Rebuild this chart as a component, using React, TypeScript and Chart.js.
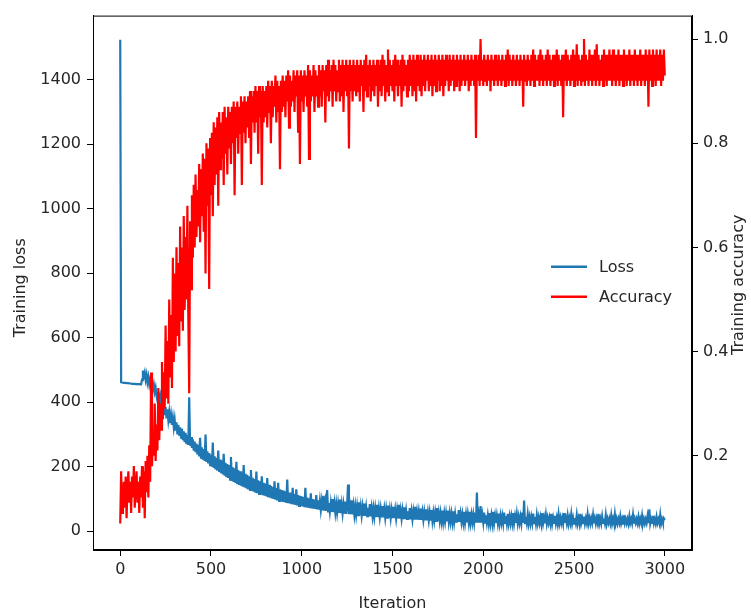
import { useEffect, useRef } from 'react';
import { Chart, registerables } from 'chart.js';

Chart.register(...registerables);

const ITERATION_STEP = 5;

// one row = 100 iterations (20 samples)
const lossValues = [
  1523, 462, 461, 461, 460, 460, 460, 459, 459, 459, 458, 458, 458, 457, 457, 457, 457, 456, 456, 456,
  456, 456, 455, 455, 470, 498, 480, 492, 470, 485, 462, 478, 455, 470, 448, 462, 440, 455, 432, 445,
  420, 405, 432, 398, 415, 380, 402, 372, 395, 360, 385, 350, 378, 345, 368, 335, 360, 330, 352, 322,
  345, 312, 338, 300, 330, 296, 322, 290, 318, 282, 310, 276, 305, 270, 298, 268, 415, 265, 292, 258,
  285, 250, 278, 245, 272, 238, 268, 232, 290, 228, 260, 222, 255, 218, 300, 215, 248, 210, 242, 205,
  238, 200, 275, 196, 232, 192, 228, 188, 250, 184, 222, 180, 218, 176, 240, 172, 212, 168, 208, 165,
  205, 160, 230, 156, 198, 153, 195, 150, 215, 146, 190, 144, 186, 141, 182, 138, 205, 136, 178, 133,
  175, 130, 170, 128, 190, 126, 166, 123, 162, 120, 185, 118, 158, 116, 155, 114, 170, 112, 150, 110,
  148, 108, 165, 106, 144, 104, 140, 102, 138, 100, 155, 98, 134, 96, 150, 94, 130, 93, 128, 91,
  126, 90, 124, 88, 160, 87, 120, 86, 118, 84, 135, 83, 115, 82, 130, 80, 112, 79, 110, 78,
  108, 77, 106, 75, 135, 74, 104, 73, 102, 72, 118, 71, 100, 70, 98, 69, 112, 68, 96, 67,
  94, 66, 92, 65, 110, 64, 90, 63, 128, 62, 88, 61, 87, 60, 100, 59, 86, 58, 85, 58,
  84, 57, 98, 56, 83, 55, 82, 55, 92, 54, 81, 145, 53, 80, 53, 96, 52, 79, 51, 78,
  51, 77, 50, 90, 50, 76, 49, 75, 48, 86, 48, 74, 47, 73, 47, 84, 46, 72, 46, 71,
  45, 71, 45, 82, 44, 70, 44, 69, 43, 78, 43, 68, 42, 68, 42, 80, 42, 67, 41, 66,
  41, 76, 41, 66, 40, 65, 40, 82, 39, 64, 39, 64, 38, 74, 38, 63, 38, 62, 37, 72,
  37, 62, 37, 61, 36, 76, 36, 60, 36, 60, 35, 70, 35, 59, 35, 59, 34, 68, 34, 58,
  34, 58, 33, 66, 33, 57, 33, 57, 32, 72, 32, 56, 32, 56, 32, 64, 31, 55, 31, 55,
  31, 64, 31, 55, 30, 54, 30, 62, 30, 54, 30, 53, 29, 66, 29, 53, 29, 52, 29, 60,
  28, 52, 28, 52, 28, 60, 28, 51, 28, 51, 27, 58, 27, 120, 27, 50, 27, 78, 27, 50,
  27, 58, 27, 50, 27, 49, 26, 56, 26, 49, 26, 60, 26, 48, 26, 48, 26, 55, 26, 48,
  26, 47, 25, 58, 26, 47, 25, 54, 26, 46, 25, 46, 26, 56, 25, 46, 26, 52, 25, 45,
  26, 45, 25, 58, 26, 95, 25, 45, 26, 52, 25, 44, 24, 44, 26, 55, 25, 44, 24, 50,
  26, 43, 25, 43, 24, 56, 26, 43, 25, 50, 24, 42, 26, 42, 25, 54, 24, 42, 26, 48,
  25, 42, 24, 52, 26, 42, 25, 41, 24, 56, 26, 41, 25, 48, 24, 41, 26, 52, 25, 41,
  24, 41, 26, 50, 25, 40, 24, 54, 26, 40, 25, 46, 24, 40, 26, 52, 25, 40, 24, 40,
  26, 50, 25, 40, 24, 40, 26, 54, 25, 39, 24, 46, 26, 39, 25, 50, 24, 39, 26, 39,
  25, 48, 24, 39, 26, 52, 25, 39, 24, 38, 26, 46, 25, 38, 24, 50, 26, 38, 25, 38,
  24, 46, 26, 38, 25, 50, 24, 38, 26, 38, 25, 44, 24, 38, 26, 48, 25, 38, 24, 37,
  26, 46, 25, 68, 24, 37, 26, 48, 25, 37, 24, 44, 26, 37, 25, 50, 24, 37, 26, 40,
  35,
];

const accuracyValues = [
  0.07, 0.17, 0.09, 0.12, 0.15, 0.10, 0.16, 0.08, 0.14, 0.17, 0.11, 0.15, 0.09, 0.16, 0.12, 0.18, 0.10, 0.14, 0.17, 0.11,
  0.15, 0.09, 0.16, 0.12, 0.18, 0.10, 0.17, 0.08, 0.19, 0.13, 0.20, 0.12, 0.22, 0.15, 0.36, 0.18, 0.24, 0.20, 0.30, 0.19,
  0.26, 0.21, 0.33, 0.23, 0.30, 0.25, 0.38, 0.27, 0.36, 0.29, 0.45, 0.31, 0.42, 0.30, 0.50, 0.35, 0.47, 0.33, 0.58, 0.38,
  0.55, 0.40, 0.60, 0.43, 0.57, 0.41, 0.64, 0.46, 0.60, 0.44, 0.66, 0.48, 0.62, 0.50, 0.68, 0.47, 0.32, 0.65, 0.52, 0.70,
  0.58, 0.72, 0.60, 0.74, 0.62, 0.71, 0.64, 0.76, 0.61, 0.75, 0.66, 0.78, 0.63, 0.77, 0.55, 0.80, 0.68, 0.79, 0.52, 0.81,
  0.70, 0.82, 0.66, 0.84, 0.72, 0.83, 0.74, 0.85, 0.68, 0.86, 0.75, 0.84, 0.77, 0.86, 0.72, 0.87, 0.78, 0.85, 0.74, 0.87,
  0.79, 0.86, 0.76, 0.87, 0.80, 0.88, 0.70, 0.87, 0.81, 0.88, 0.78, 0.87, 0.82, 0.89, 0.72, 0.88, 0.82, 0.89, 0.80, 0.88,
  0.83, 0.89, 0.81, 0.90, 0.76, 0.89, 0.84, 0.90, 0.82, 0.91, 0.84, 0.90, 0.78, 0.91, 0.85, 0.90, 0.72, 0.91, 0.84, 0.90,
  0.85, 0.91, 0.83, 0.92, 0.86, 0.91, 0.80, 0.92, 0.85, 0.91, 0.87, 0.93, 0.84, 0.92, 0.86, 0.91, 0.75, 0.92, 0.86, 0.93,
  0.87, 0.92, 0.85, 0.93, 0.88, 0.94, 0.83, 0.93, 0.87, 0.92, 0.88, 0.94, 0.86, 0.93, 0.89, 0.94, 0.82, 0.93, 0.76, 0.94,
  0.88, 0.93, 0.86, 0.94, 0.89, 0.93, 0.87, 0.95, 0.77, 0.94, 0.88, 0.93, 0.89, 0.95, 0.86, 0.94, 0.89, 0.93, 0.87, 0.95,
  0.89, 0.94, 0.87, 0.95, 0.90, 0.94, 0.84, 0.95, 0.89, 0.96, 0.88, 0.94, 0.90, 0.95, 0.87, 0.96, 0.90, 0.95, 0.88, 0.94,
  0.90, 0.96, 0.88, 0.95, 0.89, 0.96, 0.86, 0.95, 0.90, 0.96, 0.89, 0.95, 0.79, 0.96, 0.90, 0.95, 0.88, 0.96, 0.90, 0.95,
  0.89, 0.96, 0.90, 0.95, 0.88, 0.96, 0.91, 0.95, 0.86, 0.96, 0.90, 0.97, 0.89, 0.95, 0.91, 0.96, 0.88, 0.95, 0.90, 0.96,
  0.89, 0.95, 0.91, 0.96, 0.87, 0.95, 0.90, 0.96, 0.89, 0.97, 0.91, 0.96, 0.88, 0.95, 0.90, 0.98, 0.89, 0.96, 0.91, 0.95,
  0.90, 0.96, 0.88, 0.97, 0.91, 0.96, 0.89, 0.95, 0.91, 0.96, 0.87, 0.97, 0.90, 0.96, 0.91, 0.95, 0.89, 0.96, 0.90, 0.97,
  0.91, 0.96, 0.89, 0.97, 0.90, 0.96, 0.88, 0.97, 0.91, 0.96, 0.90, 0.97, 0.89, 0.96, 0.91, 0.97, 0.90, 0.96, 0.92, 0.97,
  0.90, 0.96, 0.91, 0.97, 0.89, 0.96, 0.91, 0.97, 0.90, 0.96, 0.92, 0.97, 0.90, 0.96, 0.91, 0.97, 0.89, 0.96, 0.91, 0.97,
  0.92, 0.96, 0.90, 0.97, 0.91, 0.96, 0.92, 0.97, 0.90, 0.96, 0.91, 0.97, 0.92, 0.96, 0.90, 0.97, 0.91, 0.96, 0.92, 0.97,
  0.91, 0.96, 0.92, 0.97, 0.90, 0.96, 0.91, 0.97, 0.92, 0.96, 0.91, 0.97, 0.81, 0.96, 0.92, 0.97, 0.91, 1.00, 0.92, 0.96,
  0.91, 0.97, 0.92, 0.96, 0.91, 0.97, 0.92, 0.96, 0.90, 0.97, 0.92, 0.96, 0.91, 0.97, 0.92, 0.96, 0.91, 0.97, 0.92, 0.96,
  0.91, 0.97, 0.92, 0.96, 0.91, 0.97, 0.92, 0.98, 0.91, 0.97, 0.92, 0.96, 0.91, 0.97, 0.92, 0.96, 0.91, 0.97, 0.92, 0.96,
  0.91, 0.97, 0.92, 0.96, 0.87, 0.97, 0.92, 0.96, 0.91, 0.97, 0.92, 0.96, 0.91, 0.97, 0.92, 0.98, 0.91, 0.97, 0.92, 0.96,
  0.92, 0.97, 0.91, 0.98, 0.92, 0.97, 0.91, 0.96, 0.92, 0.97, 0.91, 0.98, 0.92, 0.97, 0.91, 0.96, 0.92, 0.97, 0.91, 0.97,
  0.92, 0.98, 0.91, 0.97, 0.92, 0.96, 0.91, 0.97, 0.85, 0.97, 0.92, 0.98, 0.91, 0.97, 0.92, 0.96, 0.91, 0.97, 0.92, 0.98,
  0.91, 0.97, 0.92, 0.99, 0.91, 0.97, 0.92, 0.96, 0.91, 0.97, 0.92, 1.00, 0.91, 0.97, 0.92, 0.96, 0.91, 0.98, 0.92, 0.97,
  0.91, 0.97, 0.92, 0.98, 0.91, 0.99, 0.92, 0.97, 0.91, 0.96, 0.92, 0.97, 0.91, 0.98, 0.92, 0.97, 0.91, 0.97, 0.92, 0.98,
  0.92, 0.97, 0.91, 0.98, 0.92, 0.97, 0.91, 0.97, 0.92, 0.98, 0.91, 0.97, 0.92, 0.97, 0.91, 0.98, 0.92, 0.97, 0.91, 0.97,
  0.92, 0.98, 0.91, 0.97, 0.92, 0.97, 0.91, 0.98, 0.92, 0.97, 0.91, 0.97, 0.92, 0.98, 0.91, 0.97, 0.92, 0.97, 0.91, 0.98,
  0.92, 0.97, 0.87, 0.98, 0.92, 0.97, 0.91, 0.98, 0.92, 0.97, 0.91, 0.98, 0.92, 0.97, 0.92, 0.98, 0.91, 0.97, 0.92, 0.98,
  0.93,
];

const xTicks = [0, 500, 1000, 1500, 2000, 2500, 3000];
const lossTicks = [0, 200, 400, 600, 800, 1000, 1200, 1400];
const accuracyTicks = [0.2, 0.4, 0.6, 0.8, 1.0];

const seriesNames = ['Loss', 'Accuracy'];
const LOSS_COLOR = '#1f77b4';
const ACC_COLOR = '#ff0000';
const TEXT_COLOR = '#262626';
const FONT_FAMILY = '"DejaVu Sans", sans-serif';

export default function App() {
  const canvasRef = useRef<HTMLCanvasElement | null>(null);

  useEffect(() => {
    document.body.style.margin = '0';
    const canvas = canvasRef.current;
    if (!canvas) return;

    const lossPoints = lossValues.map((v, i) => ({ x: i * ITERATION_STEP, y: v }));
    const accPoints = accuracyValues.map((v, i) => ({ x: i * ITERATION_STEP, y: v }));

    const tickFont = { family: FONT_FAMILY, size: 16 };

    const decorPlugin = {
      id: 'decor',
      afterDraw(chart: any) {
        const { ctx, chartArea } = chart;
        const { left, right, top, bottom } = chartArea;
        ctx.save();
        ctx.strokeStyle = '#000';
        ctx.lineWidth = 1;
        ctx.strokeRect(left + 0.5, top + 0.5, right - left - 1, bottom - top - 1);

        ctx.fillStyle = TEXT_COLOR;
        ctx.font = `16px ${FONT_FAMILY}`;
        ctx.textAlign = 'center';
        ctx.textBaseline = 'middle';
        const midY = (top + bottom) / 2;
        ctx.fillText('Iteration', (left + right) / 2, bottom + 54);
        ctx.save();
        ctx.translate(left - 72, midY + 5);
        ctx.rotate(-Math.PI / 2);
        ctx.fillText('Training loss', 0, 0);
        ctx.restore();
        ctx.save();
        ctx.translate(right + 47, midY + 2);
        ctx.rotate(-Math.PI / 2);
        ctx.fillText('Training accuracy', 0, 0);
        ctx.restore();

        const colors = [LOSS_COLOR, ACC_COLOR];
        const lx = right - 141;
        ctx.textAlign = 'left';
        seriesNames.forEach((name, i) => {
          const y = midY - 16 + i * 30;
          ctx.strokeStyle = colors[i];
          ctx.lineWidth = 2.5;
          ctx.beginPath();
          ctx.moveTo(lx, y);
          ctx.lineTo(lx + 36, y);
          ctx.stroke();
          ctx.fillStyle = TEXT_COLOR;
          ctx.fillText(name, lx + 48, y + 1);
        });
        ctx.restore();
      },
    };

    const axisCommon = (tickLen: number) => ({
      grid: {
        display: true,
        drawOnChartArea: false,
        drawTicks: true,
        tickLength: tickLen,
        tickColor: '#000',
        tickWidth: 1,
      },
      border: { display: true, color: '#000', width: 1 },
    });

    const chart = new Chart(canvas, {
      type: 'line',
      data: {
        datasets: [
          {
            label: seriesNames[1],
            data: accPoints,
            yAxisID: 'y1',
            borderColor: ACC_COLOR,
            borderWidth: 2.2,
            pointRadius: 0,
            tension: 0,
            fill: false,
          },
          {
            label: seriesNames[0],
            data: lossPoints,
            yAxisID: 'y',
            borderColor: LOSS_COLOR,
            borderWidth: 2.2,
            pointRadius: 0,
            tension: 0,
            fill: false,
          },
        ],
      },
      options: {
        animation: false,
        responsive: false,
        maintainAspectRatio: false,
        layout: { padding: { top: 6, left: 0, right: 0, bottom: 0 } },
        plugins: { legend: { display: false }, tooltip: { enabled: false } },
        scales: {
          x: {
            type: 'linear',
            min: -150,
            max: 3150,
            ...axisCommon(6),
            afterBuildTicks: (s: any) => {
              s.ticks = xTicks.map((v) => ({ value: v }));
            },
            afterFit: (s: any) => {
              s.height = 65;
            },
            ticks: {
              font: tickFont,
              color: TEXT_COLOR,
              padding: 4,
              maxRotation: 0,
              autoSkip: false,
              callback: (v: any) => String(v),
            },
          },
          y: {
            type: 'linear',
            position: 'left',
            min: -58,
            max: 1598,
            ...axisCommon(6),
            afterBuildTicks: (s: any) => {
              s.ticks = lossTicks.map((v) => ({ value: v }));
            },
            afterFit: (s: any) => {
              s.width = 93;
            },
            ticks: {
              font: tickFont,
              color: TEXT_COLOR,
              padding: 6,
              autoSkip: false,
              callback: (v: any) => String(v),
            },
          },
          y1: {
            type: 'linear',
            position: 'right',
            min: 0.019,
            max: 1.045,
            ...axisCommon(6),
            afterBuildTicks: (s: any) => {
              s.ticks = accuracyTicks.map((v) => ({ value: v }));
            },
            afterFit: (s: any) => {
              s.width = 59;
            },
            ticks: {
              font: tickFont,
              color: TEXT_COLOR,
              padding: 5,
              autoSkip: false,
              callback: (v: any) => Number(v).toFixed(1),
            },
          },
        },
      },
      plugins: [decorPlugin],
    } as any);

    return () => chart.destroy();
  }, []);

  return (
    <div style={{ width: 751, height: 615, background: '#fff' }}>
      <canvas ref={canvasRef} width={751} height={615} />
    </div>
  );
}
